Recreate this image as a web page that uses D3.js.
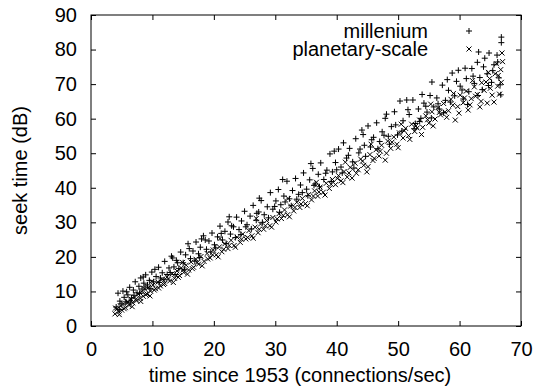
<!DOCTYPE html>
<html>
<head>
<meta charset="utf-8">
<script src="https://cdn.jsdelivr.net/npm/d3@7"></script>
<style>
  body { margin: 0; background: #fff; }
  text { font-family: "Liberation Sans", Arial, sans-serif; font-size: 20px; fill: #000; }
</style>
</head>
<body>
<div id="chart"></div>
<script>
const width = 536;
const height = 391;
const margin = { top: 15, right: 15, bottom: 65, left: 91 };

const xTicks = [0, 10, 20, 30, 40, 50, 60, 70];
const yTicks = [0, 10, 20, 30, 40, 50, 60, 70, 80, 90];
const seriesNames = ['millenium', 'planetary-scale'];

// millenium (+)
const millenium = [
  [4.1,5.5],[4.4,9.5],[4.7,7.2],[4.9,6.4],[5.2,10.1],[5.4,8.3],[5.7,7.0],[6.0,9.0],[6.3,11.2],[6.6,8.1],
  [6.9,10.4],[7.2,12.8],[7.5,9.6],[7.8,11.5],[8.1,13.9],[8.3,10.7],[8.6,12.4],[8.9,14.8],[9.2,11.9],[9.5,13.2],
  [9.9,15.6],[10.2,12.8],[10.6,14.3],[11.0,17.0],[11.3,13.9],[11.6,15.4],[12.0,18.7],[12.4,14.9],[12.7,16.8],[13.1,20.2],
  [13.5,17.1],[13.9,19.0],[14.3,16.6],[14.6,21.4],[15.0,18.3],[15.4,20.6],[15.8,23.8],[16.2,19.5],[16.6,21.7],[17.1,24.3],
  [17.5,20.9],[17.8,22.8],[18.3,26.1],[18.8,22.2],[19.2,24.6],
  [19.7,26.9],[20.1,23.5],[20.6,25.8],[21.0,28.9],[21.4,24.9],[21.8,27.4],[22.3,30.1],[22.7,26.6],[23.2,28.7],[23.7,31.5],
  [24.1,27.9],[24.5,30.4],[25.0,33.2],[25.4,29.3],[25.9,31.8],[26.4,34.9],[26.9,30.6],[27.3,33.0],[27.7,36.3],[28.2,32.2],[28.7,34.5],
  [29.2,38.6],[29.6,33.8],[30.1,36.2],[30.5,39.5],[30.9,35.1],[31.4,37.6],[31.9,41.9],[32.3,36.8],[32.8,39.2],[33.3,42.7],
  [33.8,38.1],[34.1,40.8],[34.6,44.3],[35.1,39.6],[35.6,42.3],[36.1,45.6],[36.5,41.1],[37.0,43.9],[37.4,47.2],[37.9,42.4],[38.4,45.1],
  [38.9,49.8],[39.3,44.6],[39.8,47.3],[40.3,51.2],[40.7,46.0],[41.1,53.0],[41.6,48.6],[42.1,51.4],[42.6,47.5],[43.1,54.2],
  [43.6,50.1],[44.1,56.7],[44.5,52.3],[45.1,57.9],[45.5,51.8],[46.0,54.6],[46.5,58.8],[47.0,53.4],[47.4,56.2],[47.9,60.1],[48.4,54.9],
  [48.9,57.7],[49.4,62.0],[49.9,55.3],[50.3,65.1],[50.8,59.4],[51.4,65.4],[51.8,61.2],[52.4,65.4],[52.8,58.6],[53.3,62.8],
  [53.7,60.1],[54.2,64.5],[54.7,61.9],[55.2,66.7],[55.5,70.6],[55.8,63.4],[56.3,66.0],[56.7,62.8],[57.2,69.7],[57.7,65.3],[58.2,68.2],
  [58.8,73.2],[59.2,66.6],[59.8,74.0],[60.1,69.4],[60.6,65.7],[61.1,71.6],[61.5,67.8],[62.0,74.5],[62.4,70.2],[62.9,76.3],
  [63.1,79.3],[63.3,71.9],[63.7,68.4],[64.1,77.5],[64.5,73.0],[64.8,79.0],[65.2,70.5],[65.6,75.6],[66.1,78.4],[66.4,71.8],
  [66.8,83.6],[66.8,82.0],[66.6,69.8],
  [4.6,4.8],[5.8,9.9],[6.4,6.9],[7.0,8.9],[7.9,9.4],[8.8,11.3],[9.6,10.8],[10.4,16.4],[11.1,12.6],[11.9,13.4],
  [12.9,15.5],[13.7,14.9],[14.1,18.3],[15.2,16.4],[16.0,22.4],[16.9,18.8],[17.7,19.8],[18.6,24.9],[19.5,21.4],[20.3,22.6],
  [21.2,26.8],[22.0,23.9],[22.9,29.0],[23.5,25.6],[24.4,26.5],[25.2,28.7],[26.1,28.1],[27.0,32.6],[27.9,30.0],[28.9,31.3],
  [29.9,34.6],[30.7,32.9],[31.6,35.9],[32.6,34.8],[33.5,36.7],[34.4,38.6],[35.3,37.7],[36.3,40.7],[37.2,40.3],[38.2,44.2],
  [39.1,41.8],[40.0,45.2],[40.9,44.3],[41.9,49.4],[42.8,45.7],[43.8,51.2],[44.7,49.1],[45.7,53.9],[46.7,51.3],[47.7,55.2],
  [48.6,52.6],[49.6,58.2],[50.6,56.4],[51.6,62.6],[52.6,57.1],[53.5,59.2],[54.5,63.6],[55.4,60.2],[56.5,64.3],[57.4,61.7],
  [58.5,64.8],[59.5,70.8],[60.4,68.3],[61.3,64.1],[62.2,72.3],[63.0,66.7],[63.9,75.0],[64.7,69.6],[65.4,73.9],[66.2,76.4],
  [66.7,66.9],[60.9,74.6],[58.0,71.3],[53.9,67.0],[48.1,61.3],[44.3,55.4],[39.6,50.6],[35.8,47.0],[31.2,42.4],[27.4,37.0],
  [22.5,31.6],[18.0,25.2],[13.3,19.7],[8.5,14.2]
];

// planetary-scale (x)
const planetary = [
  [3.9,3.5],[4.2,4.9],[4.5,4.1],[4.8,5.8],[5.0,4.6],[5.3,6.4],[5.6,5.3],[5.9,7.1],[6.2,6.0],[6.5,7.8],
  [6.8,6.7],[7.1,8.4],[7.4,7.3],[7.7,9.2],[8.0,8.0],[8.2,9.9],[8.5,8.6],[8.8,10.6],[9.1,9.3],[9.4,11.2],
  [9.7,10.1],[10.1,11.9],[10.5,10.8],[10.9,12.7],[11.3,11.6],[11.6,13.5],[12.0,12.3],[12.4,14.2],[12.8,13.0],[13.2,15.1],
  [13.6,13.8],[14.0,15.9],[14.4,14.6],[14.7,16.8],[15.1,15.5],[15.5,17.6],[15.9,16.2],[16.3,18.5],[16.7,17.0],[17.1,19.3],
  [17.5,17.9],[17.9,20.1],[18.4,18.7],[18.9,21.0],
  [19.4,19.7],[19.9,22.0],[20.4,20.6],[20.9,22.9],[21.3,21.5],[21.8,23.8],[22.3,22.4],[22.8,24.8],[23.3,23.3],[23.8,25.7],
  [24.3,24.2],[24.7,26.6],[25.2,25.2],[25.7,27.6],[26.2,26.1],[26.7,28.6],[27.2,27.0],[27.6,29.5],[28.1,28.0],[28.6,30.5],
  [29.1,29.0],[29.6,31.4],[30.1,30.1],[30.6,32.5],[31.0,31.1],[31.5,33.6],[32.0,32.2],[32.5,34.7],[33.0,33.3],[33.5,35.8],
  [34.0,34.3],[34.4,36.9],[34.9,35.4],[35.4,38.0],[35.9,36.5],[36.4,39.1],[36.9,37.6],[37.3,40.2],[37.8,38.7],[38.3,41.3],
  [38.8,39.8],[39.3,42.4],[39.8,40.9],[40.3,43.5],[40.7,42.0],[41.2,44.7],[41.7,43.1],[42.2,45.9],[42.5,42.8],[43.0,47.1],
  [43.5,45.2],[43.9,48.3],[44.4,46.5],[44.9,44.6],[45.4,49.6],[45.9,47.9],[46.4,51.0],[46.9,49.2],[47.3,52.3],[47.9,48.0],[48.3,53.5],
  [48.8,51.4],[49.3,54.7],[49.8,52.6],[50.2,55.9],[50.8,54.4],[51.2,57.2],[51.7,55.1],[52.2,58.4],[52.7,56.3],[53.1,57.3],
  [53.5,59.6],[54.0,57.5],[54.5,60.8],[55.0,58.7],[55.5,62.0],[56.0,59.9],[56.5,63.2],[56.9,61.1],[57.4,64.4],[57.6,61.9],
  [58.2,62.3],[58.6,65.6],[59.3,59.6],[59.7,63.5],[60.1,66.8],[60.6,64.6],[61.1,68.0],[61.4,62.5],[61.9,65.8],[62.4,69.2],
  [62.9,67.0],[63.3,63.4],[63.6,70.4],[64.0,68.2],[64.5,64.5],[64.9,71.6],[65.3,66.8],[65.8,73.0],[66.2,69.4],[66.5,67.1],
  [66.9,79.0],[66.7,74.2],
  [4.0,5.2],[4.6,3.3],[5.4,5.0],[6.0,6.8],[6.7,5.6],[7.3,7.7],[8.1,7.1],[8.9,9.1],[9.6,8.7],[10.3,10.4],
  [11.0,11.0],[11.8,12.0],[12.6,13.6],[13.4,12.6],[14.2,14.1],[15.0,16.2],[15.7,15.0],[16.5,16.6],[17.3,18.4],[18.1,17.4],
  [19.0,19.4],[19.8,20.6],[20.7,20.0],[21.6,22.2],[22.5,23.3],[23.5,22.8],[24.5,25.1],[25.5,25.6],[26.4,25.4],[27.4,28.0],
  [28.4,29.0],[29.4,28.6],[30.3,31.0],[31.3,32.0],[32.3,31.6],[33.2,34.3],[34.2,35.3],[35.2,34.8],[36.2,37.6],[37.1,38.8],
  [38.1,37.9],[39.1,41.0],[40.1,42.7],[41.0,41.5],[42.0,44.3],[43.2,44.2],[44.2,47.7],[45.1,46.1],[46.1,48.5],[47.1,50.6],
  [48.1,50.0],[49.0,53.2],[50.0,51.6],[51.0,56.5],[51.9,54.0],[52.9,57.9],[53.8,55.4],[54.8,59.7],[55.7,57.9],[56.7,61.8],
  [57.9,60.4],[58.9,63.9],[59.9,61.6],[60.8,66.0],[61.7,64.0],[62.6,66.5],[63.5,65.0],[64.3,70.6],[65.0,68.8],[65.6,64.8],
  [66.3,72.5],[66.8,70.5],[67.0,76.5],[66.0,75.9],[64.7,73.4],[62.1,71.0],[59.0,67.3],[55.3,64.2],[50.5,58.4],[45.6,52.6],
  [41.4,47.4],[36.7,41.6],[32.1,36.9],[26.9,31.1],[21.0,25.3],[14.9,18.4],[9.9,12.9]
];

const plotW = width - margin.left - margin.right;
const plotH = height - margin.top - margin.bottom;

const svg = d3.select('#chart')
  .append('svg')
  .attr('width', width)
  .attr('height', height);

const g = svg.append('g')
  .attr('transform', `translate(${margin.left},${margin.top})`);

const x = d3.scaleLinear().domain([0, 70]).range([0, plotW]);
const y = d3.scaleLinear().domain([0, 90]).range([plotH, 0]);

// ejes con ticks hacia dentro, en los cuatro lados
function styleAxis(sel) {
  sel.select('.domain').remove();
  sel.selectAll('.tick line').attr('stroke', '#000').attr('stroke-width', 1);
}

g.append('g')
  .attr('transform', `translate(0,${plotH})`)
  .call(d3.axisBottom(x).tickValues(xTicks).tickSizeInner(-5).tickPadding(16))
  .call(styleAxis)
  .selectAll('text').style('font-size', '20px').attr('font-family', null);

g.append('g')
  .call(d3.axisTop(x).tickValues(xTicks).tickSizeInner(-5).tickFormat(''))
  .call(styleAxis);

g.append('g')
  .call(d3.axisLeft(y).tickValues(yTicks).tickSizeInner(-5).tickPadding(14))
  .call(styleAxis)
  .selectAll('text').style('font-size', '20px').attr('font-family', null);

g.append('g')
  .attr('transform', `translate(${plotW},0)`)
  .call(d3.axisRight(y).tickValues(yTicks).tickSizeInner(-5).tickFormat(''))
  .call(styleAxis);

g.append('rect')
  .attr('width', plotW)
  .attr('height', plotH)
  .attr('fill', 'none')
  .attr('stroke', '#000')
  .attr('stroke-width', 1);

// marcadores
const plusPath = s => `M${-s},0H${s}M0,${-s}V${s}`;
const crossPath = s => `M${-s},${-s}L${s},${s}M${-s},${s}L${s},${-s}`;

g.append('g').selectAll('path')
  .data(planetary)
  .enter()
  .append('path')
  .attr('transform', d => `translate(${x(d[0])},${y(d[1])})`)
  .attr('d', crossPath(2.5))
  .attr('stroke', '#000')
  .attr('stroke-width', 1)
  .attr('fill', 'none');

g.append('g').selectAll('path')
  .data(millenium)
  .enter()
  .append('path')
  .attr('transform', d => `translate(${x(d[0])},${y(d[1])})`)
  .attr('d', plusPath(3))
  .attr('stroke', '#000')
  .attr('stroke-width', 1)
  .attr('fill', 'none');

// leyenda
const legend = svg.append('g').attr('class', 'legend');
seriesNames.forEach((name, i) => {
  const ly = 31 + i * 18;
  legend.append('text')
    .attr('x', 428)
    .attr('y', ly)
    .attr('dy', '0.33em')
    .attr('text-anchor', 'end')
    .text(name);
  legend.append('path')
    .attr('transform', `translate(469,${ly})`)
    .attr('d', i === 0 ? plusPath(3) : crossPath(2.5))
    .attr('stroke', '#000')
    .attr('fill', 'none');
});

// titulos de ejes
svg.append('text')
  .attr('x', margin.left + plotW / 2 - 6)
  .attr('y', 382)
  .attr('text-anchor', 'middle')
  .text('time since 1953 (connections/sec)');

svg.append('text')
  .attr('transform', `translate(27,${margin.top + plotH / 2}) rotate(-90)`)
  .attr('text-anchor', 'middle')
  .text('seek time (dB)');
</script>
</body>
</html>
